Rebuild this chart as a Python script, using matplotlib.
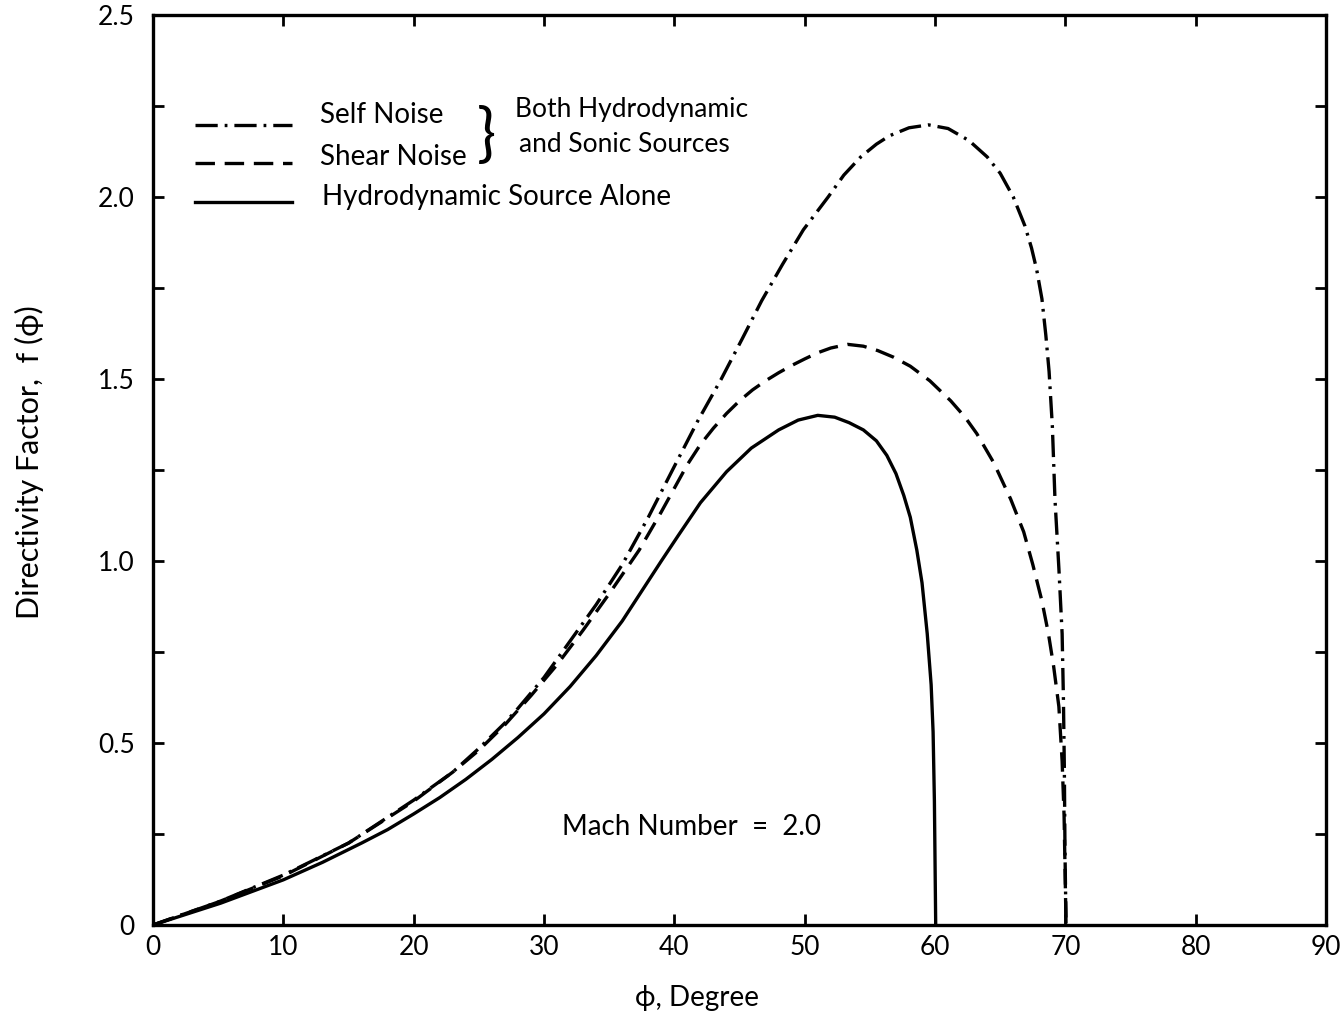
import matplotlib
matplotlib.use("Agg")
from matplotlib import pyplot as plt
from matplotlib.ticker import MultipleLocator, FixedLocator, FixedFormatter

plt.rcParams['font.family'] = ['Lato', 'DejaVu Sans']
plt.rcParams['lines.scale_dashes'] = False

# Self noise (dash-dot): phi in degrees, directivity factor
self_phi = [0, 5, 10, 15, 20, 23, 25, 27, 28, 30, 32, 34, 36, 38, 40, 41.8,
            43.6, 45.2, 46.7, 48.3, 49.9, 51.8, 53.0, 54.3, 55.5, 56.5, 58.0, 59.5,
            61.0, 62.6, 64.0, 65.0, 66.0, 66.9, 67.4, 67.8, 68.2, 68.5, 68.75, 69.0,
            69.2, 69.5, 69.75, 69.85, 69.92, 69.97, 70.05]
self_f = [0, 0.063, 0.137, 0.225, 0.343, 0.42, 0.485, 0.555, 0.595, 0.68, 0.78, 0.88,
          0.99, 1.12, 1.26, 1.385, 1.50, 1.61, 1.715, 1.815, 1.91, 2.0, 2.06, 2.11,
          2.145, 2.168, 2.19, 2.198, 2.188, 2.155, 2.11, 2.065, 2.0, 1.92, 1.86, 1.80,
          1.72, 1.62, 1.52, 1.37, 1.17, 0.98, 0.80, 0.62, 0.43, 0.20, 0]

# Shear noise (dashed)
shear_phi = [0, 5, 10, 15, 20, 23, 25, 27, 29, 31, 33, 35, 37.3, 39, 40, 41, 42, 43,
             44, 45, 46, 47, 48, 49, 50, 51, 52, 53.3, 54.5, 55.6, 56.8, 58.1, 59.6,
             61.2, 62.3, 63.2, 64.5, 65.8, 66.8, 67.5, 68.2, 68.7, 69.1, 69.5, 69.75,
             69.9, 70.05]
shear_f = [0, 0.063, 0.135, 0.225, 0.34, 0.42, 0.48, 0.55, 0.63, 0.715, 0.81, 0.91,
           1.03, 1.135, 1.20, 1.265, 1.32, 1.365, 1.405, 1.44, 1.47, 1.495, 1.517,
           1.537, 1.555, 1.572, 1.585, 1.595, 1.59, 1.578, 1.56, 1.535, 1.495, 1.44,
           1.395, 1.35, 1.27, 1.17, 1.08, 0.99, 0.89, 0.80, 0.71, 0.60, 0.45, 0.30, 0]

# Hydrodynamic source alone (solid)
hydro_phi = [0, 5.2, 10, 13, 16, 18, 20, 22, 24, 26, 28, 30, 32, 34, 36, 38, 39,
             40.3, 42, 44, 45.9, 48, 49.5, 51, 52.3, 53.4, 54.5, 55.5, 56.3, 57.0,
             57.6, 58.1, 58.6, 59.0, 59.4, 59.7, 59.85, 59.95, 60.05]
hydro_f = [0, 0.06, 0.124, 0.172, 0.225, 0.262, 0.305, 0.35, 0.40, 0.455, 0.515, 0.58,
           0.655, 0.74, 0.835, 0.945, 1.0, 1.07, 1.16, 1.245, 1.31, 1.36, 1.387, 1.40,
           1.395, 1.38, 1.36, 1.33, 1.29, 1.24, 1.18, 1.12, 1.03, 0.94, 0.80, 0.66,
           0.53, 0.34, 0]

y_tick_vals = [0, 0.5, 1.0, 1.5, 2.0, 2.5]
y_tick_labels = ["0", "0.5", "1.0", "1.5", "2.0", "2.5"]
x_tick_vals = [0, 10, 20, 30, 40, 50, 60, 70, 80, 90]

fig = plt.figure(figsize=(13.4, 10.17), dpi=100)
ax = fig.add_axes([0.1142, 0.0905, 0.8754, 0.8948])

lw = 2.4
ax.plot(self_phi, self_f, color='black', lw=lw, dashes=(16, 5, 2, 5))
ax.plot(shear_phi, shear_f, color='black', lw=lw, dashes=(14, 7))
ax.plot(hydro_phi, hydro_f, color='black', lw=lw)

ax.set_xlim(0, 90)
ax.set_ylim(0, 2.5)

ax.xaxis.set_major_locator(FixedLocator(x_tick_vals))
ax.yaxis.set_major_locator(FixedLocator(y_tick_vals))
ax.yaxis.set_major_formatter(FixedFormatter(y_tick_labels))
ax.yaxis.set_minor_locator(MultipleLocator(0.25))

ax.tick_params(which='both', direction='in', top=True, right=True, length=8, width=2,
               labelsize=19, color='black')
ax.tick_params(axis='y', which='both', pad=13)
ax.tick_params(axis='x', which='both', pad=7)
for s in ax.spines.values():
    s.set_linewidth(2.4)

ax.set_xlabel("ϕ, Degree", fontsize=20)
ax.xaxis.set_label_coords(0.464, -0.066)
ax.set_ylabel("Directivity Factor,  f (ϕ)", fontsize=22)
ax.yaxis.set_label_coords(-0.093, 0.509)

# hand-drawn style key in the upper left
ax.plot([3.2, 10.7], [2.198, 2.198], color='black', lw=lw, dashes=(16, 5, 2, 5))
ax.plot([3.2, 10.7], [2.093, 2.093], color='black', lw=lw, dashes=(14, 7))
ax.plot([3.2, 10.7], [1.986, 1.986], color='black', lw=lw)
ax.text(12.8, 2.225, "Self Noise", fontsize=20, va='center', ha='left')
ax.text(12.8, 2.11, "Shear Noise", fontsize=20, va='center', ha='left')
ax.text(13.0, 2.0, "Hydrodynamic Source Alone", fontsize=20, va='center', ha='left')
ax.text(25.6, 2.165, "}", fontsize=46, va='center', ha='center')
ax.text(27.8, 2.239, "Both Hydrodynamic", fontsize=19, va='center', ha='left')
ax.text(28.1, 2.143, "and Sonic Sources", fontsize=19, va='center', ha='left')

ax.text(41.3, 0.27, "Mach Number  =  2.0", fontsize=20, va='center', ha='center')

fig.savefig("out.png", dpi=100)
